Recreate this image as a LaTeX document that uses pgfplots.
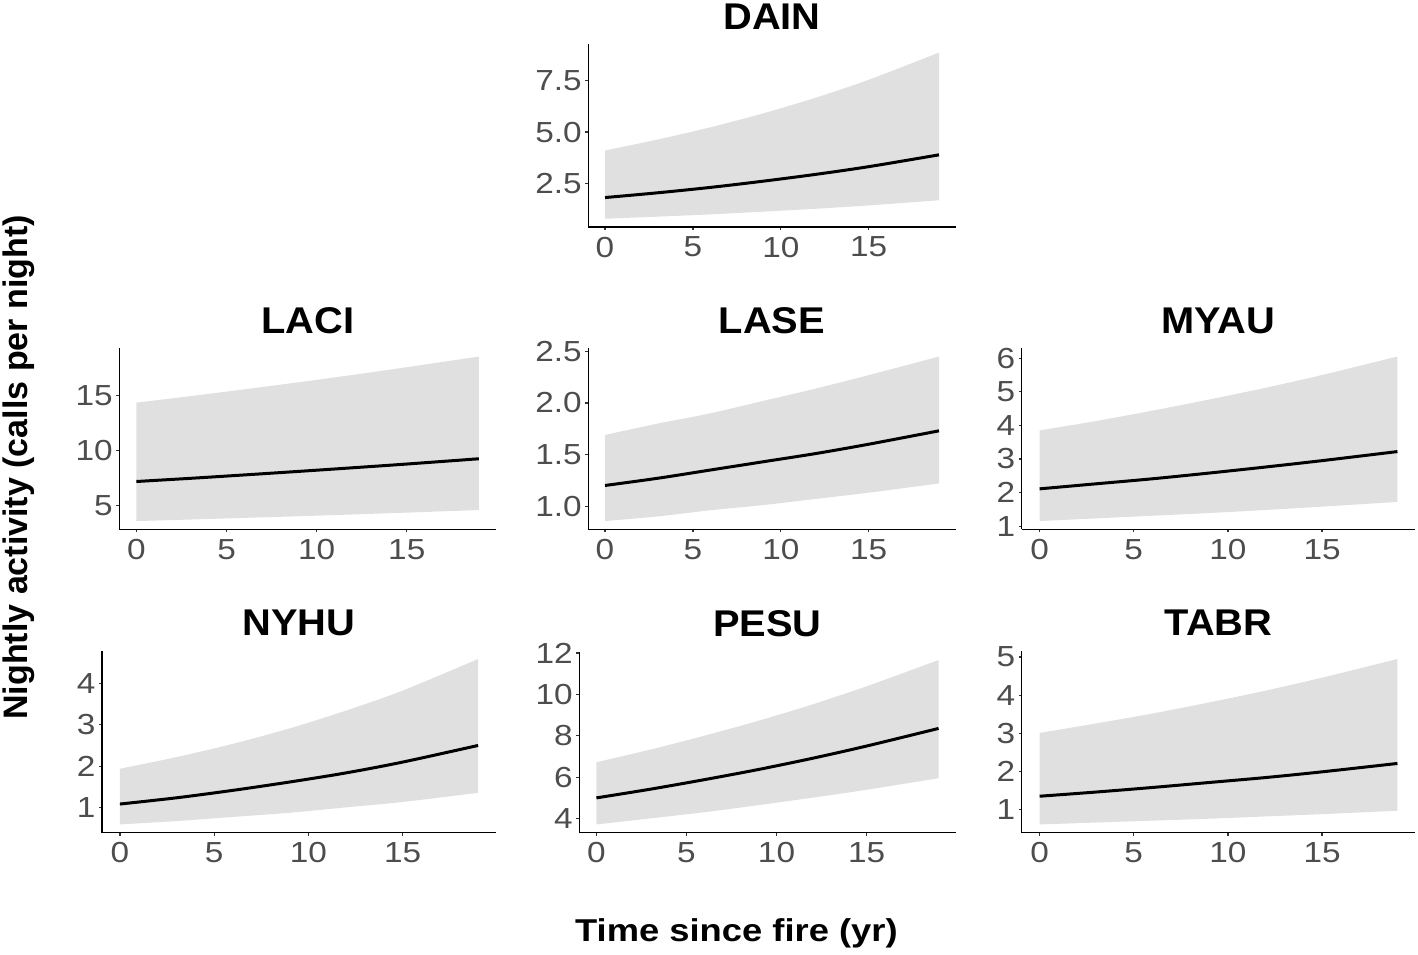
\documentclass[border=0pt]{standalone}
\usepackage{pgfplots}
\pgfplotsset{compat=1.18}
\usepackage{pgfplotstable}
\usepgfplotslibrary{fillbetween}
\usepackage{fontspec}
\setmainfont{Liberation Sans}
\newfontfamily\tickfont[FakeStretch=1.15]{Liberation Sans}
\newfontfamily\titlefont[FakeStretch=1.07]{Liberation Sans}
\newfontfamily\labfont[FakeStretch=1.15]{Liberation Sans}
\definecolor{ribbon}{RGB}{224,224,224}
\definecolor{ticktext}{RGB}{77,77,77}
\definecolor{tickcol}{RGB}{51,51,51}

\pgfplotstableread{
x lo fit hi
0 0.82 1.84 4.11
3 0.92 2.07 4.64
6 1.03 2.33 5.23
9 1.16 2.63 5.90
12 1.30 2.96 6.66
15 1.46 3.33 7.52
19 1.71 3.90 8.83
}\dain
\pgfplotstableread{
x lo fit hi
0 3.58 7.18 14.36
3 3.72 7.47 14.95
6 3.87 7.78 15.57
9 4.02 8.10 16.21
12 4.18 8.43 16.88
15 4.35 8.77 17.58
19 4.58 9.25 18.55
}\laci
\pgfplotstableread{
x lo fit hi
0 0.855 1.20 1.69
3 0.90 1.27 1.80
6 0.96 1.35 1.90
9 1.01 1.43 2.02
12 1.07 1.51 2.14
15 1.13 1.60 2.27
19 1.22 1.73 2.45
}\lase
\pgfplotstableread{
x lo fit hi
0 1.15 2.11 3.85
3 1.23 2.26 4.13
6 1.31 2.41 4.44
9 1.39 2.58 4.77
12 1.48 2.76 5.12
15 1.58 2.95 5.50
19 1.72 3.22 6.05
}\myau
\pgfplotstableread{
x lo fit hi
0 0.60 1.09 1.94
3 0.68 1.24 2.22
6 0.78 1.42 2.54
9 0.88 1.62 2.91
12 1.01 1.84 3.34
15 1.14 2.10 3.82
19 1.36 2.50 4.58
}\nyhu
\pgfplotstableread{
x lo fit hi
0 3.73 5.01 6.73
3 4.02 5.43 7.34
6 4.32 5.89 8.01
9 4.66 6.38 8.73
12 5.02 6.92 9.52
15 5.40 7.51 10.39
19 5.96 8.36 11.66
}\pesu
\pgfplotstableread{
x lo fit hi
0 0.61 1.35 3.01
3 0.66 1.46 3.26
6 0.71 1.58 3.52
9 0.76 1.71 3.81
12 0.82 1.84 4.12
15 0.88 1.99 4.46
19 0.97 2.21 4.95
}\tabr

\pgfplotsset{panel/.style={
  scale only axis, axis lines=left, anchor=south west,
  axis line style={-, black, line width=0.7pt},
  xmin=-0.95, xmax=19.95, xtick={0,5,10,15},
  tick align=outside, major tick length=1.5pt,
  tick style={tickcol, line width=0.6pt},
  tick label style={font=\tickfont\fontsize{14.5}{14.5}\selectfont, text=ticktext},
  /pgf/number format/assume math mode=true,
  y tick label style={inner sep=0pt, xshift=-1.6pt},
  x tick label style={inner sep=0pt, yshift=-3.2pt},
  title style={font=\titlefont\bfseries\fontsize{18.6}{18.6}\selectfont, at={(0.5,1)}, anchor=base, yshift=1.5pt},
  no markers,
}}

\newcommand{\panel}[1]{%
  \addplot[name path=U, draw=none, smooth] table[x=x,y=hi]{#1};
  \addplot[name path=L, draw=none, smooth] table[x=x,y=lo]{#1};
  \addplot[fill=ribbon, draw=none] fill between[of=U and L];
  \addplot[black, line width=1.5pt, smooth] table[x=x,y=fit]{#1};
}

\begin{document}
\begin{tikzpicture}

% DAIN
\begin{axis}[panel, at={(294.15pt,-113.5pt)}, width=183.7pt, height=91.35pt,
  ymin=0.42, ymax=9.23, ytick={2.5,5,7.5},
  yticklabel style={/pgf/number format/.cd, fixed, fixed zerofill, precision=1},
  title={DAIN}]
\panel{\dain}
\end{axis}

% LACI
\begin{axis}[panel, at={(59.65pt,-264.65pt)}, width=188.35pt, height=90.5pt,
  ymin=2.83, ymax=19.30, ytick={5,10,15}, title={LACI}]
\panel{\laci}
\end{axis}

% LASE
\begin{axis}[panel, at={(294.15pt,-264.65pt)}, width=183.7pt, height=90.5pt,
  ymin=0.775, ymax=2.53, ytick={1,1.5,2,2.5},
  yticklabel style={/pgf/number format/.cd, fixed, fixed zerofill, precision=1},
  title={LASE}]
\panel{\lase}
\end{axis}

% MYAU
\begin{axis}[panel, at={(510.85pt,-264.65pt)}, width=196.8pt, height=90.5pt,
  ymin=0.905, ymax=6.295, ytick={1,2,3,4,5,6}, title={MYAU}]
\panel{\myau}
\end{axis}

% NYHU
\begin{axis}[panel, at={(51pt,-416.35pt)}, width=197pt, height=91pt,
  ymin=0.40, ymax=4.78, ytick={1,2,3,4}, title={NYHU}]
\panel{\nyhu}
\end{axis}

% PESU
\begin{axis}[panel, at={(289.65pt,-416.35pt)}, width=188.2pt, height=90.5pt,
  ymin=3.33, ymax=12.06, ytick={4,6,8,10,12}, title={PESU}]
\panel{\pesu}
\end{axis}

% TABR
\begin{axis}[panel, at={(510.85pt,-416.35pt)}, width=196.8pt, height=91pt,
  ymin=0.393, ymax=5.167, ytick={1,2,3,4,5}, title={TABR}]
\panel{\tabr}
\end{axis}

\node[anchor=base, inner sep=0pt, font=\labfont\bfseries\fontsize{15.8}{15.8}\selectfont] at (368.2pt,-470.85pt) {Time since fire (yr)};
\node[anchor=base, rotate=90, inner sep=0pt, font=\bfseries\fontsize{17}{17}\selectfont] at (13.5pt,-233.7pt) {Nightly activity (calls per night)};

\pgfresetboundingbox
\path[use as bounding box] (0,0) rectangle (709pt,-477pt);
\end{tikzpicture}
\end{document}
